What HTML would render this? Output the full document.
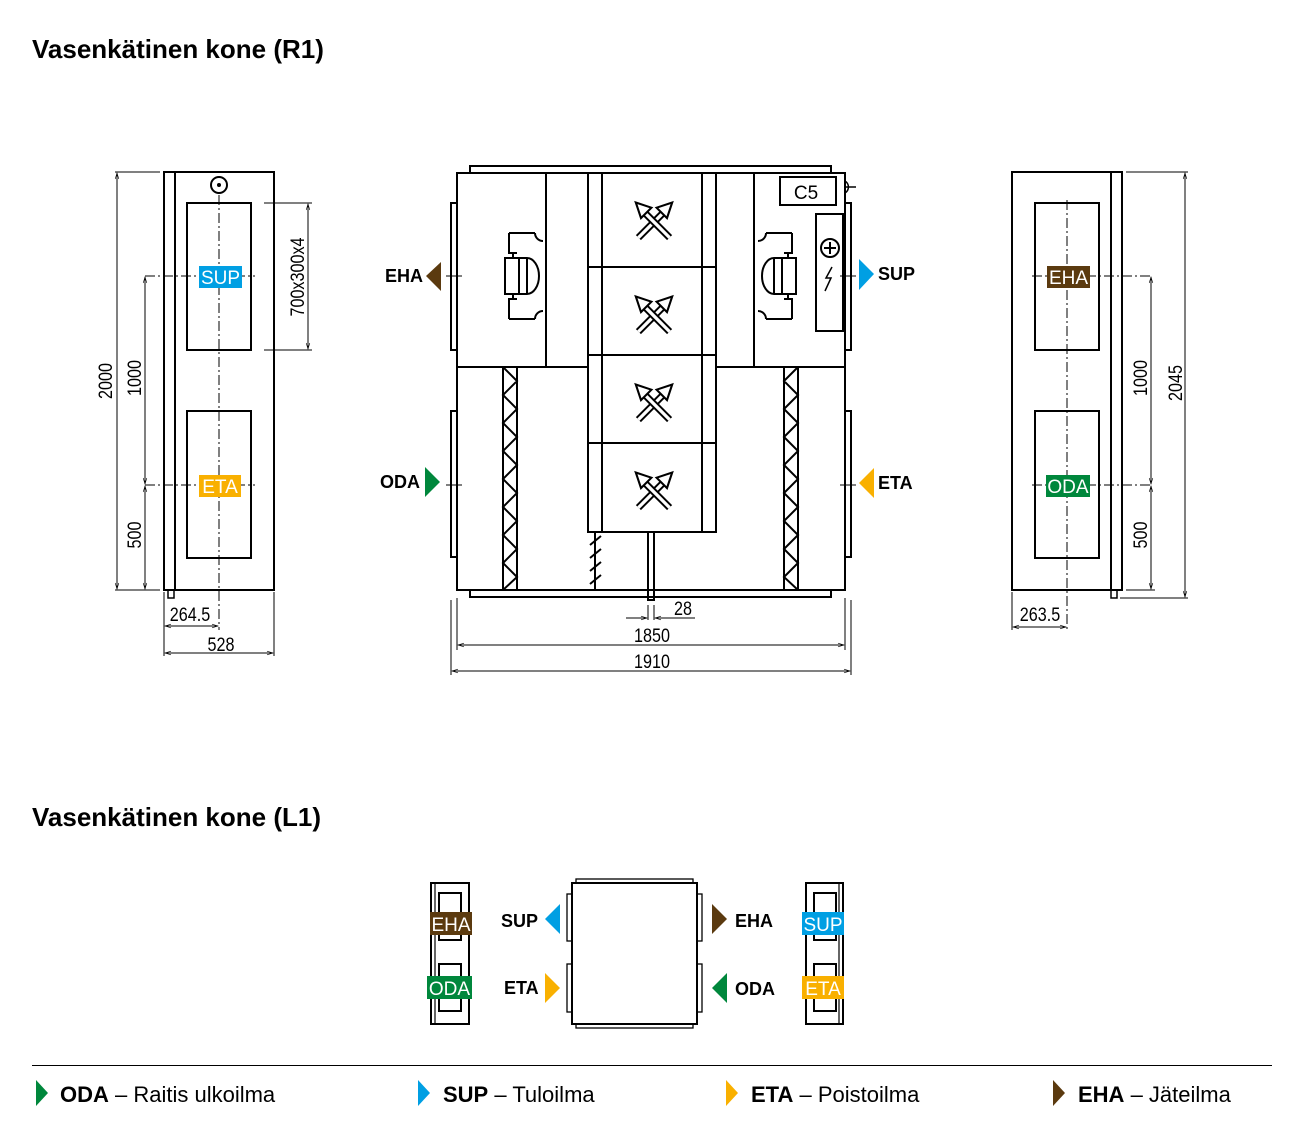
<!DOCTYPE html>
<html><head><meta charset="utf-8"><style>
body{margin:0;background:#fff;}
svg{display:block;font-family:"Liberation Sans",sans-serif;}
.t{font-family:"Liberation Sans",sans-serif;}
</style></head><body>
<svg width="1300" height="1135" viewBox="0 0 1300 1135" xmlns="http://www.w3.org/2000/svg">
<defs>
<marker id="ar" viewBox="0 0 10 10" refX="10" refY="5" markerWidth="8" markerHeight="6" orient="auto-start-reverse"><path d="M0,2 L10,5 L0,8" fill="none" stroke="#000" stroke-width="1"/></marker>
<g id="hx" transform="scale(1.3)">
<path d="M-12,12 L9,-9" stroke="#000" stroke-width="5.5"/><path d="M-12,12 L9,-9" stroke="#fff" stroke-width="2.5"/>
<path d="M12,12 L-9,-9" stroke="#000" stroke-width="5.5"/><path d="M12,12 L-9,-9" stroke="#fff" stroke-width="2.5"/>
<path d="M2,-11 L14,-15 L10,-3 Z" fill="#fff" stroke="#000" stroke-width="1.6"/>
<path d="M-2,-11 L-14,-15 L-10,-3 Z" fill="#fff" stroke="#000" stroke-width="1.6"/>
</g>
<g id="fan" fill="none" stroke="#000" stroke-width="2">
<path d="M0,0 H12 M0,0 V20 H8 M0,86 H12 M0,86 V66 H8"/>
<path d="M26,0 A8,8 0 0 0 34,8 M26,86 A8,8 0 0 1 34,78"/>
<path d="M12,0 H26 M12,86 H26"/>
<rect x="-4" y="25" width="14" height="36"/>
<path d="M10,25 H18 A12,18 0 0 1 18,61 H10"/>
<path d="M18,25 V61"/>
<path d="M4,20 V25 M4,61 V66"/>
</g>
</defs>

<text x="32" y="58" font-size="26" font-weight="bold" class="t">Vasenkätinen kone (R1)</text>
<text x="32" y="826" font-size="26" font-weight="bold" class="t">Vasenkätinen kone (L1)</text>

<!-- LEFT VIEW -->
<g fill="none" stroke="#000" stroke-width="2">
<rect x="164" y="172" width="110" height="418"/>
<line x1="175" y1="172" x2="175" y2="590"/>
<rect x="168" y="590" width="6" height="8" stroke-width="1.5"/>
<rect x="187" y="203" width="64" height="147"/>
<rect x="187" y="411" width="64" height="147"/>
<circle cx="219" cy="185" r="8"/>
</g>
<circle cx="219" cy="185" r="2" fill="#000"/>
<g stroke="#000" stroke-width="1" fill="none">
<line x1="219" y1="195" x2="219" y2="630" stroke-dasharray="10,3,2,3"/>
<line x1="145" y1="276" x2="255" y2="276" stroke-dasharray="10,3,2,3"/>
<line x1="145" y1="485" x2="255" y2="485" stroke-dasharray="10,3,2,3"/>
<line x1="115" y1="172" x2="160" y2="172"/><line x1="115" y1="590" x2="160" y2="590"/>
<line x1="117" y1="173" x2="117" y2="589" marker-start="url(#ar)" marker-end="url(#ar)"/>
<line x1="145" y1="277" x2="145" y2="484" marker-start="url(#ar)" marker-end="url(#ar)"/>
<line x1="145" y1="486" x2="145" y2="589" marker-start="url(#ar)" marker-end="url(#ar)"/>
<line x1="264" y1="203" x2="312" y2="203"/><line x1="264" y1="350" x2="312" y2="350"/>
<line x1="308" y1="204" x2="308" y2="349" marker-start="url(#ar)" marker-end="url(#ar)"/>
<line x1="164" y1="592" x2="164" y2="656"/><line x1="274" y1="592" x2="274" y2="656"/>
<line x1="165" y1="626" x2="218" y2="626" marker-start="url(#ar)" marker-end="url(#ar)"/>
<line x1="165" y1="653" x2="273" y2="653" marker-start="url(#ar)" marker-end="url(#ar)"/>
</g>
<g font-size="19" class="t">
<text transform="translate(112,381) rotate(-90) scale(0.85,1)" text-anchor="middle">2000</text>
<text transform="translate(141,378) rotate(-90) scale(0.85,1)" text-anchor="middle">1000</text>
<text transform="translate(141,535) rotate(-90) scale(0.85,1)" text-anchor="middle">500</text>
<text transform="translate(304,277) rotate(-90) scale(0.85,1)" text-anchor="middle">700x300x4</text>
<text transform="translate(190,621) scale(0.85,1)" text-anchor="middle">264.5</text>
<text transform="translate(221,651) scale(0.85,1)" text-anchor="middle">528</text>
</g>
<rect x="199" y="266" width="43" height="22" fill="#009fe3"/>
<text x="220.5" y="284" font-size="19" fill="#fff" text-anchor="middle" class="t">SUP</text>
<rect x="199" y="475" width="42" height="22" fill="#f9b000"/>
<text x="220" y="493" font-size="19" fill="#fff" text-anchor="middle" class="t">ETA</text>

<!-- CENTER VIEW -->
<g fill="none" stroke="#000" stroke-width="2">
<rect x="470" y="166" width="361" height="7"/>
<rect x="457" y="173" width="388" height="417"/>
<rect x="470" y="590" width="361" height="7"/>
<rect x="451" y="203" width="6" height="147"/><rect x="451" y="411" width="6" height="146"/>
<rect x="845" y="203" width="6" height="147"/><rect x="845" y="411" width="6" height="146"/>
<path d="M457,367 H588 M716,367 H845"/>
<path d="M546,173 V367 M754,173 V367"/>
<rect x="588" y="173" width="128" height="359"/>
<path d="M602,173 V532 M702,173 V532 M588,267 H716 M588,355 H716 M588,443 H716"/>
<rect x="503" y="367" width="14" height="223"/>
<rect x="784" y="367" width="14" height="223"/>
<rect x="648" y="532" width="6" height="68"/>
<path d="M595,532 V590"/>
<rect x="780" y="177" width="56" height="28"/>
<rect x="816" y="214" width="27" height="117"/>
<circle cx="830" cy="248" r="9"/>
<path d="M830,242 V254 M824,248 H836"/>
<path d="M845,181 A7,7 0 0 1 845,193 M845,187 H856" stroke-width="1.5"/>
</g>
<path d="M832,267 L826,278 L831,278 L825,291" stroke="#000" stroke-width="1.5" fill="none"/>
<path d="M503,367 L517,381 L503,395 L517,409 L503,423 L517,437 L503,451 L517,465 L503,479 L517,493 L503,507 L517,521 L503,535 L517,549 L503,563 L517,577 L503,590" stroke="#000" stroke-width="2" fill="none"/>
<path d="M798,367 L784,381 L798,395 L784,409 L798,423 L784,437 L798,451 L784,465 L798,479 L784,493 L798,507 L784,521 L798,535 L784,549 L798,563 L784,577 L798,590" stroke="#000" stroke-width="2" fill="none"/>
<path d="M590,545 L601,536 M590,558 L601,549 M590,571 L601,562 M590,584 L601,575" stroke="#000" stroke-width="2"/>
<text x="806" y="199" font-size="19" text-anchor="middle" class="t">C5</text>
<use href="#hx" x="654" y="222"/><use href="#hx" x="654" y="316"/>
<use href="#hx" x="654" y="404"/><use href="#hx" x="654" y="492"/>
<use href="#fan" x="509" y="233"/>
<g transform="translate(792,233) scale(-1,1)"><use href="#fan"/></g>
<g stroke="#000" stroke-width="1" fill="none">
<path d="M446,276 H462 M446,485 H462 M840,276 H856 M840,485 H856"/>
<line x1="457" y1="598" x2="457" y2="650"/><line x1="845" y1="598" x2="845" y2="650"/>
<line x1="451" y1="600" x2="451" y2="675"/><line x1="851" y1="600" x2="851" y2="675"/>
<line x1="648" y1="605" x2="648" y2="620"/><line x1="654" y1="605" x2="654" y2="620"/>
<line x1="626" y1="618" x2="647" y2="618" marker-end="url(#ar)"/>
<line x1="695" y1="618" x2="655" y2="618" marker-end="url(#ar)"/>
<line x1="458" y1="645" x2="844" y2="645" marker-start="url(#ar)" marker-end="url(#ar)"/>
<line x1="452" y1="671" x2="850" y2="671" marker-start="url(#ar)" marker-end="url(#ar)"/>
</g>
<g font-size="19" class="t" text-anchor="middle">
<text transform="translate(683,615) scale(0.85,1)">28</text><text transform="translate(652,642) scale(0.85,1)">1850</text><text transform="translate(652,668) scale(0.85,1)">1910</text>
</g>
<g font-size="18" font-weight="bold" class="t">
<text x="385" y="282">EHA</text><text x="380" y="488">ODA</text>
<text x="878" y="280">SUP</text><text x="878" y="489">ETA</text>
</g>
<path d="M441,262 L426,276 L441,291 Z" fill="#5b3a0f"/>
<path d="M425,467 L440,482 L425,497 Z" fill="#00873c"/>
<path d="M859,259 L874,274 L859,290 Z" fill="#009fe3"/>
<path d="M874,468 L859,483 L874,498 Z" fill="#f9b000"/>

<!-- RIGHT VIEW -->
<g fill="none" stroke="#000" stroke-width="2">
<rect x="1012" y="172" width="110" height="418"/>
<line x1="1111" y1="172" x2="1111" y2="590"/>
<rect x="1111" y="590" width="6" height="8" stroke-width="1.5"/>
<rect x="1035" y="203" width="64" height="147"/>
<rect x="1035" y="411" width="64" height="147"/>
</g>
<g stroke="#000" stroke-width="1" fill="none">
<line x1="1067" y1="200" x2="1067" y2="630" stroke-dasharray="10,3,2,3"/>
<line x1="1032" y1="276" x2="1150" y2="276" stroke-dasharray="10,3,2,3"/>
<line x1="1032" y1="485" x2="1150" y2="485" stroke-dasharray="10,3,2,3"/>
<line x1="1126" y1="172" x2="1188" y2="172"/><line x1="1120" y1="598" x2="1188" y2="598"/>
<line x1="1126" y1="590" x2="1155" y2="590"/>
<line x1="1185" y1="173" x2="1185" y2="597" marker-start="url(#ar)" marker-end="url(#ar)"/>
<line x1="1151" y1="277" x2="1151" y2="484" marker-start="url(#ar)" marker-end="url(#ar)"/>
<line x1="1151" y1="486" x2="1151" y2="589" marker-start="url(#ar)" marker-end="url(#ar)"/>
<line x1="1012" y1="592" x2="1012" y2="630"/>
<line x1="1013" y1="627" x2="1066" y2="627" marker-start="url(#ar)" marker-end="url(#ar)"/>
</g>
<g font-size="19" class="t">
<text transform="translate(1147,378) rotate(-90) scale(0.85,1)" text-anchor="middle">1000</text>
<text transform="translate(1147,535) rotate(-90) scale(0.85,1)" text-anchor="middle">500</text>
<text transform="translate(1182,383) rotate(-90) scale(0.85,1)" text-anchor="middle">2045</text>
<text transform="translate(1040,621) scale(0.85,1)" text-anchor="middle">263.5</text>
</g>
<rect x="1047" y="266" width="43" height="22" fill="#5b3a0f"/>
<text x="1068.5" y="284" font-size="19" fill="#fff" text-anchor="middle" class="t">EHA</text>
<rect x="1046" y="475" width="44" height="22" fill="#00873c"/>
<text x="1068" y="493" font-size="19" fill="#fff" text-anchor="middle" class="t">ODA</text>

<!-- L1 -->
<g fill="none" stroke="#000" stroke-width="2">
<rect x="431" y="883" width="38" height="141"/><line x1="435" y1="883" x2="435" y2="1024" stroke-width="1.2"/>
<rect x="439" y="893" width="22" height="47"/><rect x="439" y="964" width="22" height="47"/>
<rect x="806" y="883" width="37" height="141"/><line x1="839" y1="883" x2="839" y2="1024" stroke-width="1.2"/>
<rect x="814" y="893" width="22" height="47"/><rect x="814" y="964" width="22" height="47"/>
<rect x="572" y="883" width="125" height="141"/>
<rect x="576" y="879" width="117" height="4" stroke-width="1.3"/>
<rect x="576" y="1024" width="117" height="4" stroke-width="1.3"/>
<rect x="567" y="894" width="5" height="47" stroke-width="1.3"/><rect x="567" y="964" width="5" height="48" stroke-width="1.3"/>
<rect x="697" y="894" width="5" height="47" stroke-width="1.3"/><rect x="697" y="964" width="5" height="48" stroke-width="1.3"/>
</g>
<rect x="430" y="912" width="42" height="23" fill="#5b3a0f"/><text x="451" y="931" font-size="19" fill="#fff" text-anchor="middle" class="t">EHA</text>
<rect x="427" y="976" width="45" height="23" fill="#00873c"/><text x="449.5" y="995" font-size="19" fill="#fff" text-anchor="middle" class="t">ODA</text>
<rect x="802" y="912" width="42" height="23" fill="#009fe3"/><text x="823" y="931" font-size="19" fill="#fff" text-anchor="middle" class="t">SUP</text>
<rect x="802" y="976" width="42" height="23" fill="#f9b000"/><text x="823" y="995" font-size="19" fill="#fff" text-anchor="middle" class="t">ETA</text>
<g font-size="18" font-weight="bold" class="t">
<text x="501" y="927">SUP</text><text x="504" y="994">ETA</text>
<text x="735" y="927">EHA</text><text x="735" y="995">ODA</text>
</g>
<path d="M560,904 L545,919 L560,934 Z" fill="#009fe3"/>
<path d="M545,973 L560,988 L545,1003 Z" fill="#f9b000"/>
<path d="M712,904 L727,919 L712,934 Z" fill="#5b3a0f"/>
<path d="M727,973 L712,988 L727,1003 Z" fill="#00873c"/>

<!-- legend -->
<line x1="32" y1="1065.5" x2="1272" y2="1065.5" stroke="#000" stroke-width="1"/>
<path d="M36,1080 L48,1093 L36,1106 Z" fill="#00873c"/>
<path d="M418,1080 L430,1093 L418,1106 Z" fill="#009fe3"/>
<path d="M726,1080 L738,1093 L726,1106 Z" fill="#f9b000"/>
<path d="M1053,1080 L1065,1093 L1053,1106 Z" fill="#5b3a0f"/>
<g font-size="22" class="t">
<text x="60" y="1102"><tspan font-weight="bold">ODA</tspan> – Raitis ulkoilma</text>
<text x="443" y="1102"><tspan font-weight="bold">SUP</tspan> – Tuloilma</text>
<text x="751" y="1102"><tspan font-weight="bold">ETA</tspan> – Poistoilma</text>
<text x="1078" y="1102"><tspan font-weight="bold">EHA</tspan> – Jäteilma</text>
</g>
</svg>
</body></html>
